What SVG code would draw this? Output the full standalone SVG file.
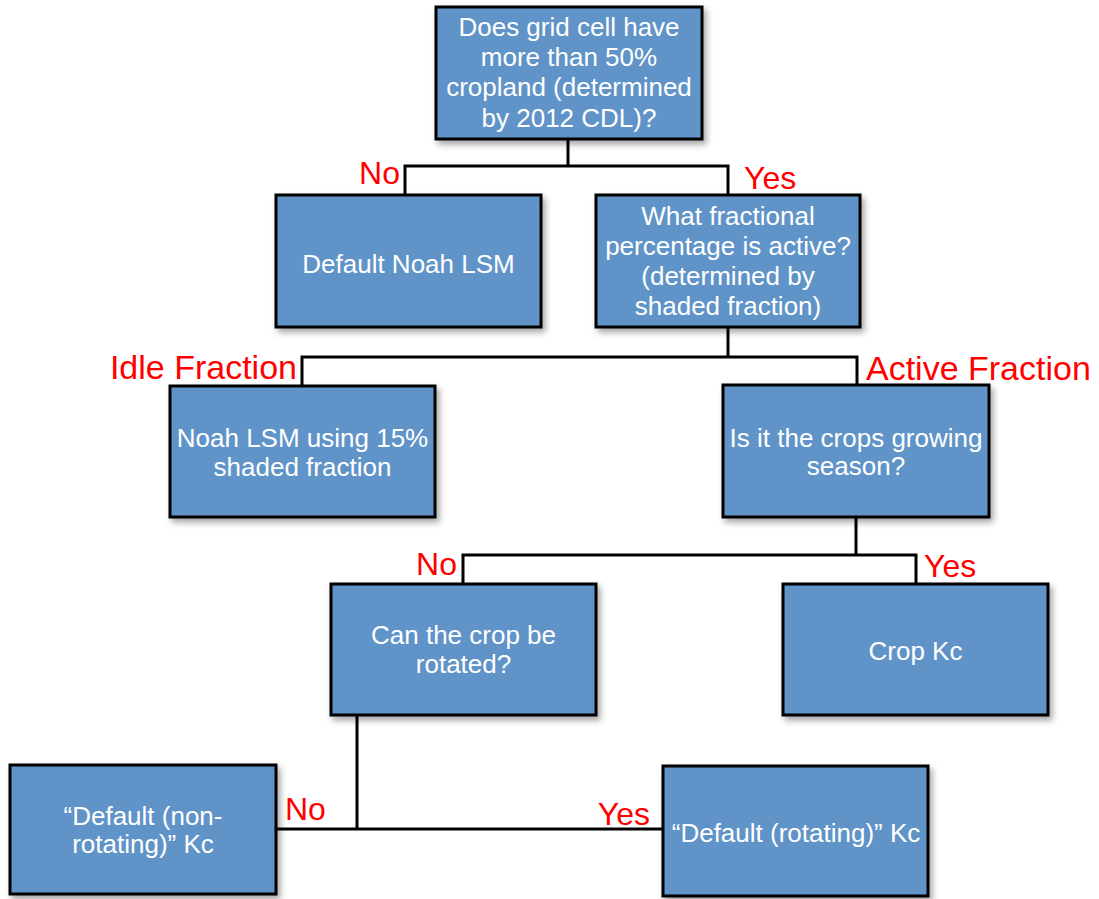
<svg xmlns="http://www.w3.org/2000/svg" width="1099" height="899" viewBox="0 0 1099 899">
<defs>
<filter id="sh" x="-10%" y="-10%" width="125%" height="130%">
<feDropShadow dx="3" dy="4" stdDeviation="3" flood-color="#000" flood-opacity="0.35"/>
</filter>
<style>
.box{fill:#6094c8;stroke:#000;stroke-width:3;filter:url(#sh)}
.t{font-family:"Liberation Sans",Arial,sans-serif;font-size:26px;fill:#fff;text-anchor:middle}
.lbl{font-family:"Liberation Sans",Arial,sans-serif;font-size:32px;fill:#ff0000}
.big{font-size:34px}
.c{fill:none;stroke:#000;stroke-width:3}
</style>
</defs>
<rect width="1099" height="899" fill="#fff"/>
<g id="connectors">
<path class="c" d="M568,139 V166"/>
<path class="c" d="M405,195 V166 H728 V195"/>
<path class="c" d="M728,327 V357"/>
<path class="c" d="M302,386 V357 H857 V385"/>
<path class="c" d="M856,517 V555"/>
<path class="c" d="M463,584 V555 H916 V584"/>
<path class="c" d="M357,715 V829"/>
<path class="c" d="M276,829 H663"/>
</g>
<g id="labels">
<text class="lbl" x="400" y="184" text-anchor="end">No</text>
<text class="lbl" x="744" y="189">Yes</text>
<text class="lbl big" x="297" y="379" text-anchor="end">Idle Fraction</text>
<text class="lbl big" x="866" y="380">Active Fraction</text>
<text class="lbl" x="457" y="575" text-anchor="end">No</text>
<text class="lbl" x="924" y="577">Yes</text>
<text class="lbl" x="285" y="820">No</text>
<text class="lbl" x="650" y="825" text-anchor="end">Yes</text>
</g>
<g id="n1">
<rect class="box" x="436" y="7" width="266" height="132"/>
<text class="t" x="569" y="36">Does grid cell have</text>
<text class="t" x="569" y="66">more than 50%</text>
<text class="t" x="569" y="96">cropland (determined</text>
<text class="t" x="569" y="127">by 2012 CDL)?</text>
</g>
<g id="n2">
<rect class="box" x="276" y="195" width="265" height="132"/>
<text class="t" x="408.5" y="273">Default Noah LSM</text>
</g>
<g id="n3">
<rect class="box" x="596" y="195" width="264" height="132"/>
<text class="t" x="728" y="225">What fractional</text>
<text class="t" x="728" y="255">percentage is active?</text>
<text class="t" x="728" y="285">(determined by</text>
<text class="t" x="728" y="315">shaded fraction)</text>
</g>
<g id="n4">
<rect class="box" x="170" y="386" width="265" height="131"/>
<text class="t" x="302.5" y="447">Noah LSM using 15%</text>
<text class="t" x="302.5" y="476">shaded fraction</text>
</g>
<g id="n5">
<rect class="box" x="723" y="385" width="266" height="132"/>
<text class="t" x="856" y="447">Is it the crops growing</text>
<text class="t" x="856" y="475">season?</text>
</g>
<g id="n6">
<rect class="box" x="331" y="584" width="265" height="131"/>
<text class="t" x="463.5" y="644">Can the crop be</text>
<text class="t" x="463.5" y="673">rotated?</text>
</g>
<g id="n7">
<rect class="box" x="783" y="584" width="265" height="131"/>
<text class="t" x="915.5" y="660">Crop Kc</text>
</g>
<g id="n8">
<rect class="box" x="10" y="765" width="266" height="129"/>
<text class="t" x="143" y="825">“Default (non-</text>
<text class="t" x="143" y="853">rotating)” Kc</text>
</g>
<g id="n9">
<rect class="box" x="663" y="766" width="265" height="130"/>
<text class="t" x="796" y="842">“Default (rotating)” Kc</text>
</g>
</svg>
